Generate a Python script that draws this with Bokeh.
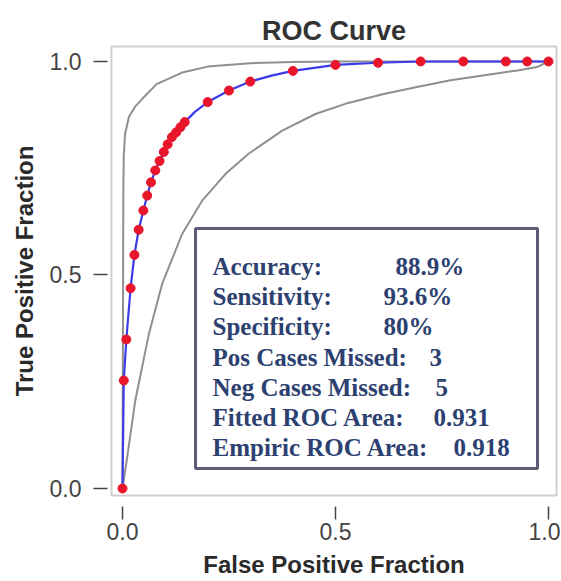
from bokeh.plotting import figure
from bokeh.models import Range1d, FixedTicker, BoxAnnotation
from bokeh.core.properties import value
from bokeh.embed import file_html
from bokeh.resources import INLINE

# ---------------- data ----------------
# empirical operating points (red dots)
emp_fpr = [0.0, 0.003, 0.009, 0.019, 0.028, 0.038, 0.049, 0.058, 0.067, 0.077, 0.087,
           0.097, 0.106, 0.116, 0.126, 0.136, 0.146, 0.2, 0.25, 0.3, 0.4, 0.5, 0.6,
           0.7, 0.8, 0.9, 0.95, 1.0]
emp_tpr = [0.0, 0.253, 0.349, 0.469, 0.547, 0.606, 0.651, 0.686, 0.717, 0.745, 0.767,
           0.788, 0.806, 0.823, 0.834, 0.846, 0.858, 0.905, 0.932, 0.953, 0.978, 0.992,
           0.997, 1.0, 1.0, 1.0, 1.0, 1.0]

# fitted ROC curve (blue)
fit_fpr = [0.0, 0.003, 0.009, 0.019, 0.028, 0.038, 0.049, 0.058, 0.067, 0.077, 0.087,
           0.1, 0.12, 0.146, 0.17, 0.2, 0.25, 0.3, 0.35, 0.4, 0.5, 0.6, 0.7, 0.8, 0.9, 1.0]
fit_tpr = [0.0, 0.253, 0.349, 0.469, 0.547, 0.606, 0.651, 0.686, 0.717, 0.745, 0.767,
           0.795, 0.828, 0.858, 0.882, 0.905, 0.932, 0.953, 0.967, 0.978, 0.992, 0.997,
           1.0, 1.0, 1.0, 1.0]

# confidence bounds (grey)
upper_fpr = [0.0, 0.002, 0.003, 0.006, 0.015, 0.03, 0.046, 0.08, 0.14, 0.2, 0.3, 0.4, 0.5, 0.7, 1.0]
upper_tpr = [0.0, 0.7, 0.78, 0.83, 0.87, 0.895, 0.912, 0.947, 0.974, 0.988, 0.996, 0.999, 1.0, 1.0, 1.0]

lower_fpr = [0.0, 0.012, 0.03, 0.062, 0.093, 0.14, 0.187, 0.242, 0.296, 0.375, 0.453,
             0.53, 0.613, 0.7, 0.77, 0.85, 0.927, 0.973, 1.0]
lower_tpr = [0.0, 0.08, 0.206, 0.362, 0.479, 0.596, 0.674, 0.737, 0.784, 0.838, 0.877,
             0.903, 0.924, 0.942, 0.956, 0.968, 0.979, 0.987, 1.0]

tick_values = [0.0, 0.5, 1.0]
tick_labels = ["0.0", "0.5", "1.0"]

stat_labels = ["Accuracy:", "Sensitivity:", "Specificity:", "Pos Cases Missed:",
               "Neg Cases Missed:", "Fitted ROC Area:", "Empiric ROC Area:"]
stat_values = ["88.9%", "93.6%", "80%", "3", "5", "0.931", "0.918"]

# ---------------- figure ----------------
FRAME_L, FRAME_T, FRAME_W, FRAME_H = 111, 46, 445, 449
W, H = 560, 580
X0, X1 = -0.0258, 1.0188
Y0, Y1 = -0.0164, 1.0351


def px_x(px):  # page pixel -> data x
    return X0 + (px - FRAME_L) / FRAME_W * (X1 - X0)


def px_y(py):  # page pixel -> data y
    return Y1 - (py - FRAME_T) / FRAME_H * (Y1 - Y0)


p = figure(width=W, height=H, output_backend="svg", toolbar_location=None,
           x_range=Range1d(X0, X1), y_range=Range1d(Y0, Y1),
           min_border_left=FRAME_L, min_border_right=W - FRAME_L - FRAME_W,
           min_border_top=FRAME_T, min_border_bottom=H - FRAME_T - FRAME_H)

p.title.text = "ROC Curve"
p.title.align = "center"
p.title.text_font = "Liberation Sans"
p.title.text_font_size = "27px"
p.title.text_font_style = "bold"
p.title.text_color = "#333333"
p.title.standoff = 2

p.outline_line_color = "#cfcfcf"
p.outline_line_width = 2
p.xgrid.visible = False
p.ygrid.visible = False
p.background_fill_color = "white"
p.border_fill_color = "white"

for ax in (p.xaxis[0], p.yaxis[0]):
    ax.ticker = FixedTicker(ticks=tick_values)
    ax.major_label_overrides = {v: t for v, t in zip(tick_values, tick_labels)}
    ax.axis_line_color = None
    ax.minor_tick_line_color = None
    ax.major_tick_line_color = "#444444"
    ax.major_tick_line_width = 1.5
    ax.major_label_text_font = "Liberation Sans"
    ax.major_label_text_font_size = "23px"
    ax.major_label_text_color = "#444444"
    ax.axis_label_text_font = "Liberation Sans"
    ax.axis_label_text_font_style = "bold"
    ax.axis_label_text_font_size = "24px"
    ax.axis_label_text_color = "#2a2a2a"

p.xaxis.axis_label = "False Positive Fraction"
p.yaxis.axis_label = "True Positive Fraction"
p.xaxis.major_tick_in = -11
p.xaxis.major_tick_out = 24
p.xaxis.major_label_standoff = 3
p.xaxis.axis_label_standoff = 8
p.yaxis.major_tick_in = -4
p.yaxis.major_tick_out = 18
p.yaxis.major_label_standoff = 12
p.yaxis.axis_label_standoff = 9

# stats box (underneath the text)
box = BoxAnnotation(left=px_x(195), right=px_x(537), top=px_y(228), bottom=px_y(468),
                    fill_color="white", fill_alpha=1.0,
                    line_color="#5d5a78", line_alpha=1.0, line_width=3,
                    level="underlay")
p.add_layout(box)

# curves
p.line(upper_fpr, upper_tpr, line_color="#8f8f8f", line_width=2)
p.line(lower_fpr, lower_tpr, line_color="#8f8f8f", line_width=2)
p.line(fit_fpr, fit_tpr, line_color="#3b3bea", line_width=2.2)
p.scatter(emp_fpr, emp_tpr, size=9, fill_color="#e8152b", line_color="#e8152b")

baselines = [266 + 30.2 * i for i in range(len(stat_labels))]
value_px = [395, 383, 383, 429, 435, 433, 453]
p.text(x=[px_x(212)] * len(stat_labels), y=[px_y(b) for b in baselines], text=stat_labels,
       text_font=value("Liberation Serif"), text_font_style="bold",
       text_font_size="25px", text_color="#2d4171", text_baseline="alphabetic")
p.text(x=[px_x(v) for v in value_px], y=[px_y(b) for b in baselines], text=stat_values,
       text_font=value("Liberation Serif"), text_font_style="bold",
       text_font_size="25px", text_color="#2d4171", text_baseline="alphabetic")

open("out.html", "w").write(file_html(p, INLINE))
